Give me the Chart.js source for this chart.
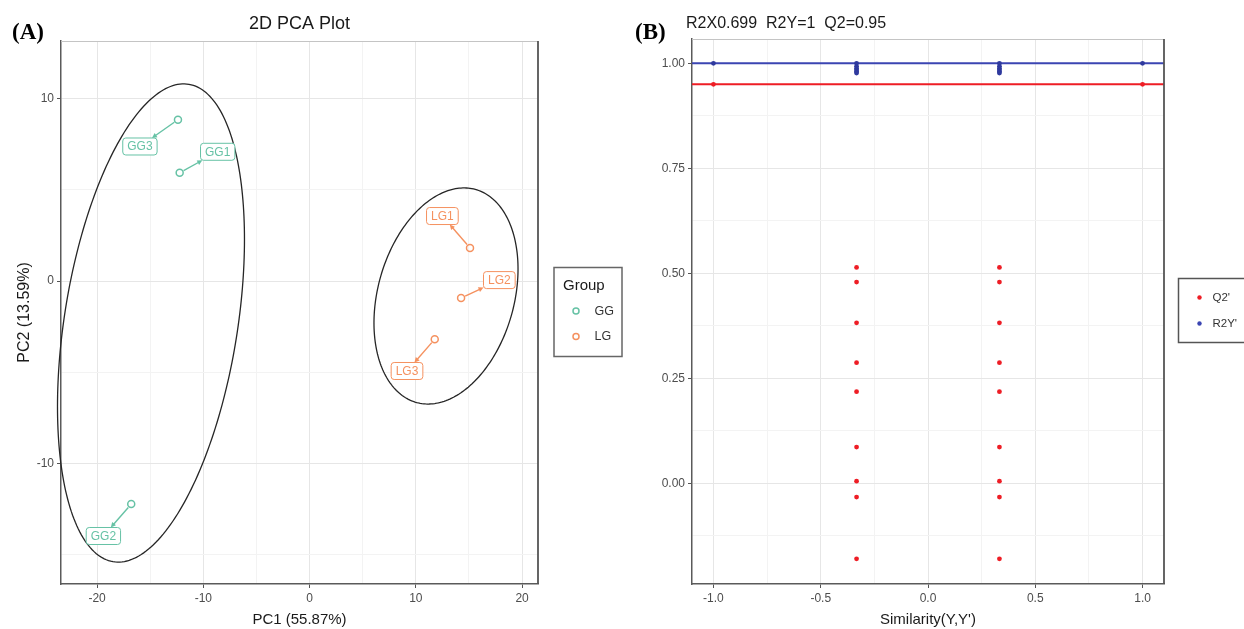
<!DOCTYPE html>
<html><head><meta charset="utf-8">
<script src="https://cdn.jsdelivr.net/npm/chart.js@4.4.1/dist/chart.umd.min.js"></script>
<style>
html,body{margin:0;padding:0;background:#fff;}
#wrap{position:relative;width:1244px;height:629px;overflow:hidden;background:#fff;}
#cA{position:absolute;left:0;top:0;}
#cB{position:absolute;left:630px;top:0;}
</style></head><body>
<div id="wrap"><canvas id="cA" width="630" height="629"></canvas><canvas id="cB" width="614" height="629"></canvas></div>
<script>
// ---------- Panel A data (PCA scores) ----------
const groupNames = ['GG', 'LG'];
const ggSamples = ['GG1', 'GG2', 'GG3'];
const ggPC1 = [-12.23, -16.79, -12.39];
const ggPC2 = [5.93, -12.22, 8.84];
const lgSamples = ['LG1', 'LG2', 'LG3'];
const lgPC1 = [15.10, 14.26, 11.78];
const lgPC2 = [1.81, -0.93, -3.19];
// repelled label anchors (data units)
const ggLabelPC1 = [-8.65, -19.41, -15.97];
const ggLabelPC2 = [7.08, -13.97, 7.37];
const lgLabelPC1 = [12.50, 17.86, 9.17];
const lgLabelPC2 = [3.56, 0.05, -4.93];
// confidence ellipses (GG, LG): centre, semi-extent on PC1/PC2, correlation
const ellipseCenterPC1 = [-14.93, 12.84];
const ellipseCenterPC2 = [-2.30, -0.82];
const ellipseExtentPC1 = [8.80, 6.78];
const ellipseExtentPC2 = [13.10, 5.92];
const ellipseCorr = [0.35, 0.25];
const pcaXTicks = [-20, -15, -10, -5, 0, 5, 10, 15, 20];
const pcaYTicks = [-15, -10, -5, 0, 5, 10];
const pcaXTitle = 'PC1 (55.87%)';
const pcaYTitle = 'PC2 (13.59%)';

// ---------- Panel B data (permutation test) ----------
const permSimilarity = [-0.333, 0.333];
const q2Perm = [0.514, 0.479, 0.382, 0.287, 0.218, 0.086, 0.005, -0.033, -0.180];
const r2yPerm = [1.000, 0.993, 0.988, 0.984, 0.980, 0.977];
const origSimilarity = [-1.0, 1.0];
const q2Orig = [0.95, 0.95];
const r2yOrig = [1.0, 1.0];
const q2Level = 0.95;
const r2yLevel = 1.0;
const simXTicks = [-1, -0.75, -0.5, -0.25, 0, 0.25, 0.5, 0.75, 1];
const simYTicks = [-0.125, 0, 0.125, 0.25, 0.375, 0.5, 0.625, 0.75, 0.875, 1.0];
const simTitle = 'R2X0.699  R2Y=1  Q2=0.95';
const simXTitle = "Similarity(Y,Y')";
const simLegend = ["Q2'", "R2Y'"];

// ---------- styling ----------
const FONT = '"Liberation Sans", Arial, Helvetica, sans-serif';
const GG_COL = '#66C2A5';
const LG_COL = '#F5915F';
const RED = '#EE1D25';
const BLUE = '#3B45B2';
const TICK_COL = '#4d4d4d';

function isMult(v, step) { return Math.abs(v / step - Math.round(v / step)) < 1e-6; }
function gridOpts(step) {
  return {
    color: c => (c.tick && isMult(c.tick.value, step)) ? '#e6e6e6' : '#f3f3f3',
    lineWidth: 1,
    tickLength: 4,
    tickColor: c => (c.tick && isMult(c.tick.value, step)) ? '#555' : 'rgba(0,0,0,0)'
  };
}

// ---------- Panel A ----------
function drawLabel(ctx, xs, ys, px, py, lx, ly, text, col) {
  const P = [xs.getPixelForValue(px), ys.getPixelForValue(py)];
  const C = [xs.getPixelForValue(lx), ys.getPixelForValue(ly)];
  ctx.font = '12px ' + FONT;
  const tw = ctx.measureText(text).width;
  const hw = tw / 2 + 4.5, hh = 8.5;
  const dx = P[0] - C[0], dy = P[1] - C[1];
  const t = Math.min(hw / Math.max(Math.abs(dx), 1e-6), hh / Math.max(Math.abs(dy), 1e-6));
  const E = [C[0] + dx * t, C[1] + dy * t];
  const len = Math.hypot(P[0] - E[0], P[1] - E[1]);
  const ux = (E[0] - P[0]) / len, uy = (E[1] - P[1]) / len;
  ctx.strokeStyle = col; ctx.fillStyle = col; ctx.lineWidth = 1.4;
  ctx.beginPath();
  ctx.moveTo(P[0] + ux * 4.5, P[1] + uy * 4.5);
  ctx.lineTo(E[0] - ux * 3, E[1] - uy * 3);
  ctx.stroke();
  ctx.beginPath();
  ctx.moveTo(E[0], E[1]);
  ctx.lineTo(E[0] - ux * 5 - uy * 2.5, E[1] - uy * 5 + ux * 2.5);
  ctx.lineTo(E[0] - ux * 5 + uy * 2.5, E[1] - uy * 5 - ux * 2.5);
  ctx.closePath(); ctx.fill();
  ctx.fillStyle = '#fff';
  ctx.beginPath();
  ctx.roundRect(C[0] - hw, C[1] - hh, hw * 2, hh * 2, 3);
  ctx.fill();
  ctx.lineWidth = 1; ctx.strokeStyle = col; ctx.stroke();
  ctx.fillStyle = col; ctx.textAlign = 'center'; ctx.textBaseline = 'middle';
  ctx.fillText(text, C[0], C[1] + 0.5);
}

const pcaPlugin = {
  id: 'pcaExtras',
  afterDatasetsDraw(chart) {
    const ctx = chart.ctx, xs = chart.scales.x, ys = chart.scales.y;
    ctx.save();
    ctx.strokeStyle = '#262626'; ctx.lineWidth = 1.3;
    for (let k = 0; k < ellipseCenterPC1.length; k++) {
      const r = ellipseCorr[k], q = Math.sqrt(1 - r * r);
      ctx.beginPath();
      for (let i = 0; i <= 240; i++) {
        const t = 2 * Math.PI * i / 240;
        const u = Math.cos(t), v = r * Math.cos(t) + q * Math.sin(t);
        const X = xs.getPixelForValue(ellipseCenterPC1[k] + ellipseExtentPC1[k] * u);
        const Y = ys.getPixelForValue(ellipseCenterPC2[k] + ellipseExtentPC2[k] * v);
        if (i === 0) ctx.moveTo(X, Y); else ctx.lineTo(X, Y);
      }
      ctx.closePath(); ctx.stroke();
    }
    ggSamples.forEach((s, i) => drawLabel(ctx, xs, ys, ggPC1[i], ggPC2[i], ggLabelPC1[i], ggLabelPC2[i], s, GG_COL));
    lgSamples.forEach((s, i) => drawLabel(ctx, xs, ys, lgPC1[i], lgPC2[i], lgLabelPC1[i], lgLabelPC2[i], s, LG_COL));
    ctx.restore();
  },
  afterDraw(chart) {
    const ctx = chart.ctx, a = chart.chartArea;
    ctx.save();
    ctx.strokeStyle = '#c4c4c4'; ctx.lineWidth = 1;
    ctx.beginPath(); ctx.moveTo(a.left, a.top + 0.5); ctx.lineTo(a.right, a.top + 0.5); ctx.stroke();
    ctx.strokeStyle = '#555'; ctx.lineWidth = 1.8;
    ctx.beginPath(); ctx.moveTo(a.right, a.top); ctx.lineTo(a.right, a.bottom); ctx.stroke();
    ctx.fillStyle = '#1a1a1a'; ctx.font = '18px ' + FONT; ctx.textAlign = 'center'; ctx.textBaseline = 'alphabetic';
    ctx.fillText('2D PCA Plot', (a.left + a.right) / 2, 29);
    ctx.fillStyle = '#000'; ctx.font = 'bold 23px "Liberation Serif", "Times New Roman", serif'; ctx.textAlign = 'left';
    ctx.fillText('(A)', 12, 39);
    ctx.strokeStyle = '#666'; ctx.lineWidth = 1.5;
    ctx.strokeRect(554, 267.5, 68, 89);
    ctx.fillStyle = '#1a1a1a'; ctx.font = '15px ' + FONT;
    ctx.fillText('Group', 563, 290);
    const cols = [GG_COL, LG_COL];
    groupNames.forEach((g, i) => {
      const y = 311 + i * 25.5;
      ctx.strokeStyle = cols[i]; ctx.lineWidth = 1.5;
      ctx.beginPath(); ctx.arc(576, y, 3, 0, Math.PI * 2); ctx.stroke();
      ctx.fillStyle = '#333'; ctx.font = '12.5px ' + FONT; ctx.textBaseline = 'middle';
      ctx.fillText(g, 594.5, y + 0.5);
      ctx.textBaseline = 'alphabetic';
    });
    ctx.restore();
  }
};

new Chart(document.getElementById('cA'), {
  type: 'scatter',
  data: {
    datasets: [
      { label: groupNames[0], data: ggPC1.map((v, i) => ({ x: v, y: ggPC2[i] })),
        pointRadius: 3.5, pointBorderWidth: 1.5, borderColor: GG_COL, backgroundColor: 'rgba(0,0,0,0)' },
      { label: groupNames[1], data: lgPC1.map((v, i) => ({ x: v, y: lgPC2[i] })),
        pointRadius: 3.5, pointBorderWidth: 1.5, borderColor: LG_COL, backgroundColor: 'rgba(0,0,0,0)' }
    ]
  },
  options: {
    responsive: false, animation: false, devicePixelRatio: 1,
    layout: { padding: { top: 41, right: 92, left: 0, bottom: 0 } },
    plugins: { legend: { display: false }, tooltip: { enabled: false } },
    scales: {
      x: {
        type: 'linear', min: -23.4, max: 21.5,
        afterBuildTicks: s => { s.ticks = pcaXTicks.map(v => ({ value: v })); },
        afterFit: s => { s.height = 45; },
        ticks: { color: TICK_COL, font: { size: 12, family: FONT }, padding: 3, autoSkip: false, maxRotation: 0,
                 callback: v => isMult(v, 10) ? String(v) : '' },
        grid: gridOpts(10),
        border: { display: true, color: '#5a5a5a', width: 1.5 },
        title: { display: true, text: pcaXTitle, color: '#1a1a1a', font: { size: 15, family: FONT }, padding: { top: 0, bottom: 0 } }
      },
      y: {
        type: 'linear', min: -16.6, max: 13.15,
        afterBuildTicks: s => { s.ticks = pcaYTicks.map(v => ({ value: v })); },
        afterFit: s => { s.width = 61; },
        ticks: { color: TICK_COL, font: { size: 12, family: FONT }, padding: 3, autoSkip: false,
                 callback: v => isMult(v, 10) ? String(v) : '' },
        grid: gridOpts(10),
        border: { display: true, color: '#5a5a5a', width: 1.5 },
        title: { display: true, text: pcaYTitle, color: '#1a1a1a', font: { size: 16, family: FONT }, padding: { top: 14.5, bottom: 0 } }
      }
    }
  },
  plugins: [pcaPlugin]
});

// ---------- Panel B ----------
const permPlugin = {
  id: 'permExtras',
  afterDraw(chart) {
    const ctx = chart.ctx, a = chart.chartArea;
    ctx.save();
    ctx.strokeStyle = '#c4c4c4'; ctx.lineWidth = 1;
    ctx.beginPath(); ctx.moveTo(a.left, a.top + 0.5); ctx.lineTo(a.right, a.top + 0.5); ctx.stroke();
    ctx.strokeStyle = '#555'; ctx.lineWidth = 1.8;
    ctx.beginPath(); ctx.moveTo(a.right, a.top); ctx.lineTo(a.right, a.bottom); ctx.stroke();
    ctx.fillStyle = '#1a1a1a'; ctx.font = '16px ' + FONT; ctx.textAlign = 'left'; ctx.textBaseline = 'alphabetic';
    ctx.fillText(simTitle, a.left - 6, 28);
    ctx.fillStyle = '#000'; ctx.font = 'bold 23px "Liberation Serif", "Times New Roman", serif';
    ctx.fillText('(B)', 5, 39);
    ctx.strokeStyle = '#555'; ctx.lineWidth = 1.5;
    ctx.strokeRect(548.5, 278.5, 80, 64);
    const cols = [RED, BLUE];
    simLegend.forEach((t, i) => {
      const y = 297.5 + i * 26;
      ctx.fillStyle = cols[i];
      ctx.beginPath(); ctx.arc(569.5, y, 2.2, 0, Math.PI * 2); ctx.fill();
      ctx.fillStyle = '#333'; ctx.font = '11.5px ' + FONT; ctx.textBaseline = 'middle';
      ctx.fillText(t, 582.5, y + 0.5);
    });
    ctx.restore();
  }
};

const q2Points = [];
permSimilarity.forEach(s => q2Perm.forEach(v => q2Points.push({ x: s, y: v })));
origSimilarity.forEach((s, i) => q2Points.push({ x: s, y: q2Orig[i] }));
const r2yPoints = [];
permSimilarity.forEach(s => r2yPerm.forEach(v => r2yPoints.push({ x: s, y: v })));
origSimilarity.forEach((s, i) => r2yPoints.push({ x: s, y: r2yOrig[i] }));

new Chart(document.getElementById('cB'), {
  type: 'scatter',
  data: {
    datasets: [
      { label: simLegend[0], data: q2Points, pointRadius: 2.4, pointBorderWidth: 0, backgroundColor: RED, borderColor: RED, order: 1 },
      { label: simLegend[1], data: r2yPoints, pointRadius: 2.4, pointBorderWidth: 0, backgroundColor: '#2f3a9e', borderColor: '#2f3a9e', order: 1 },
      { label: 'Q2 line', data: [{ x: -1.1, y: q2Level }, { x: 1.1, y: q2Level }], showLine: true, pointRadius: 0,
        borderColor: RED, borderWidth: 2, order: 2 },
      { label: 'R2Y line', data: [{ x: -1.1, y: r2yLevel }, { x: 1.1, y: r2yLevel }], showLine: true, pointRadius: 0,
        borderColor: BLUE, borderWidth: 2, order: 2 }
    ]
  },
  options: {
    responsive: false, animation: false, devicePixelRatio: 1,
    layout: { padding: { top: 39, right: 80, left: 0, bottom: 0 } },
    plugins: { legend: { display: false }, tooltip: { enabled: false } },
    scales: {
      x: {
        type: 'linear', min: -1.1, max: 1.1,
        afterBuildTicks: s => { s.ticks = simXTicks.map(v => ({ value: v })); },
        afterFit: s => { s.height = 45; },
        ticks: { color: TICK_COL, font: { size: 12, family: FONT }, padding: 3, autoSkip: false, maxRotation: 0,
                 callback: v => isMult(v, 0.5) ? v.toFixed(1) : '' },
        grid: gridOpts(0.5),
        border: { display: true, color: '#5a5a5a', width: 1.5 },
        title: { display: true, text: simXTitle, color: '#1a1a1a', font: { size: 15, family: FONT }, padding: { top: 0, bottom: 0.5 } }
      },
      y: {
        type: 'linear', min: -0.24, max: 1.058,
        afterBuildTicks: s => { s.ticks = simYTicks.map(v => ({ value: v })); },
        afterFit: s => { s.width = 62; },
        ticks: { color: TICK_COL, font: { size: 12, family: FONT }, padding: 3, autoSkip: false,
                 callback: v => isMult(v, 0.25) ? v.toFixed(2) : '' },
        grid: gridOpts(0.25),
        border: { display: true, color: '#5a5a5a', width: 1.5 }
      }
    }
  },
  plugins: [permPlugin]
});
</script>
</body></html>
